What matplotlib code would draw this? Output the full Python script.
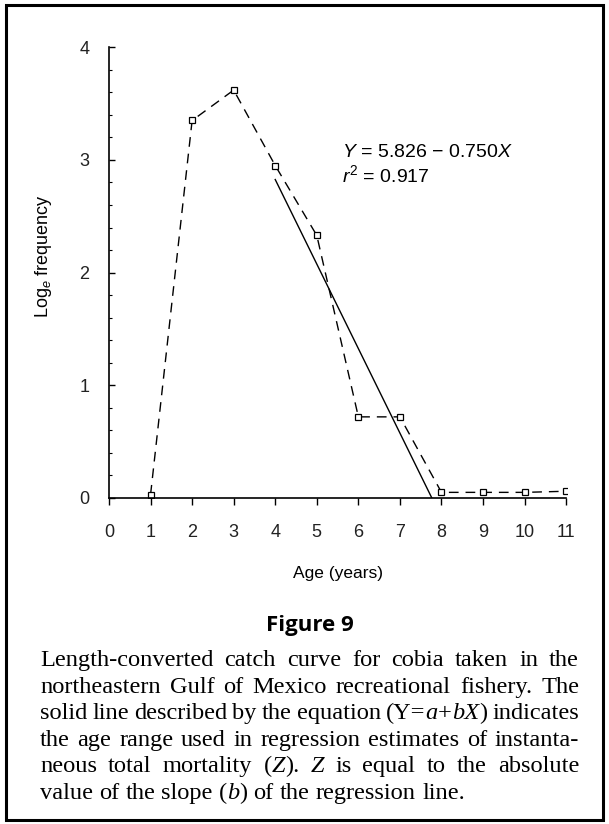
import matplotlib
matplotlib.use("Agg")
import matplotlib.pyplot as plt
from matplotlib.patches import Rectangle
from matplotlib.ticker import MultipleLocator

# data
age = [1, 2, 3, 4, 5, 6, 7, 8, 9, 10, 11]
log_freq = [0.03, 3.35, 3.62, 2.95, 2.33, 0.72, 0.72, 0.05, 0.05, 0.05, 0.06]
reg_a = 5.826
reg_b = -0.750
reg_x = [4, -reg_a / reg_b]
xticks = list(range(0, 12))
yticks = [0, 1, 2, 3, 4]

caption_lines = [
    "Length-converted catch curve for cobia taken in the",
    "northeastern Gulf of Mexico recreational fishery. The",
    "solid line described by the equation (Y=*a*+*bX*) indicates",
    "the age range used in regression estimates of instanta-",
    "neous total mortality (*Z*). *Z* is equal to the absolute",
    "value of the slope (*b*) of the regression line.",
]

plt.rcParams["mathtext.fontset"] = "custom"
plt.rcParams["mathtext.it"] = "Liberation Sans:italic"
plt.rcParams["mathtext.rm"] = "Liberation Sans"

W, H = 609, 824
fig = plt.figure(figsize=(W / 100, H / 100), dpi=100)
fig.patch.set_facecolor("white")

# frame round the whole figure
fig.patches.append(Rectangle((6 / W, 4 / H), 597 / W, 815 / H, transform=fig.transFigure,
                             fill=False, edgecolor="black", linewidth=2.2))

ax = fig.add_axes([109 / W, (H - 498) / H, (567 - 109) / W, (498 - 45) / H])
ax.plot(age, log_freq, color="black", linestyle=(0, (7, 5)), linewidth=1.0,
        marker="s", markersize=4.5, markerfacecolor="white", markeredgecolor="black",
        markeredgewidth=0.9)
reg_y = [reg_a + reg_b * x for x in reg_x]
ax.plot(reg_x, reg_y, color="black", linewidth=1.0)

ax.set_xlim(0, 11.02)
ax.set_ylim(0, 4.02)
for s in ["top", "right"]:
    ax.spines[s].set_visible(False)
for s in ["left", "bottom"]:
    ax.spines[s].set_linewidth(1.2)
ax.spines["left"].set_bounds(0, 4)
ax.spines["bottom"].set_bounds(0, 11)

ax.set_xticks(xticks)
ax.set_yticks(yticks)
ax.yaxis.set_minor_locator(MultipleLocator(0.2))
ax.tick_params(axis="x", direction="out", length=5, width=1.0, pad=14,
               labelsize=13)
ax.tick_params(axis="y", which="major", direction="in", length=4, width=1.0, pad=14,
               labelsize=13)
ax.tick_params(axis="y", which="minor", direction="in", length=2, width=0.8)
for lab in ax.get_xticklabels() + ax.get_yticklabels():
    lab.set_fontfamily("Liberation Sans")
    lab.set_color("#222222")

ax.set_xlabel("Age (years)", fontsize=12.5, family="Liberation Sans", labelpad=18)
ax.set_ylabel(r"Log$_e$ frequency", fontsize=13, family="Liberation Sans")
ax.yaxis.set_label_coords(-0.12, 0.535)

ax.text(5.6, 3.03, r"$\mathit{Y}$ = 5.826 $-$ 0.750$\mathit{X}$", fontsize=14,
        family="Liberation Sans", ha="left", va="baseline")
ax.text(5.6, 2.80, r"$\mathit{r}^2$ = 0.917", fontsize=14,
        family="Liberation Sans", ha="left", va="baseline")

fig.text(310 / W, (H - 625) / H, "Figure 9", fontsize=16, fontweight="bold",
         family="Open Sans", ha="center", va="center")

# justified caption, word by word
fig.canvas.draw()
renderer = fig.canvas.get_renderer()
left_px, right_px = 40, 579
top_base = 666
line_gap = 26.6
cap_size = 14.0


def runs_of(word):
    parts = word.split("*")
    return [(p, i % 2 == 1) for i, p in enumerate(parts) if p]


def run_width(text, italic, size):
    t = fig.text(0, 0, text, fontsize=size, family="Liberation Serif",
                 style="italic" if italic else "normal")
    w = t.get_window_extent(renderer).width
    t.remove()
    return w


def natural_width(line, size):
    return sum(run_width(t, it, size) for w in line.split(" ") for t, it in runs_of(w)) \
        + (len(line.split(" ")) - 1) * run_width(" ", False, size) * 0.8


# scale the caption so the longest line just fills the column
widest = max(natural_width(l, cap_size) for l in caption_lines)
cap_size = cap_size * (right_px - left_px) / widest

for n, line in enumerate(caption_lines):
    words = [runs_of(w) for w in line.split(" ")]
    widths = [[run_width(t, it, cap_size) for t, it in wr] for wr in words]
    total = sum(sum(ws) for ws in widths)
    if n < len(caption_lines) - 1:
        gap = (right_px - left_px - total) / (len(words) - 1)
    else:
        gap = run_width("a b", False, cap_size) - run_width("ab", False, cap_size)
    x = left_px
    y = H - (top_base + n * line_gap)
    for wr, ws in zip(words, widths):
        for (t, it), w in zip(wr, ws):
            fig.text(x / W, y / H, t, fontsize=cap_size, family="Liberation Serif",
                     style="italic" if it else "normal", ha="left", va="baseline")
            x += w
        x += gap

fig.savefig("out.png", dpi=100)
